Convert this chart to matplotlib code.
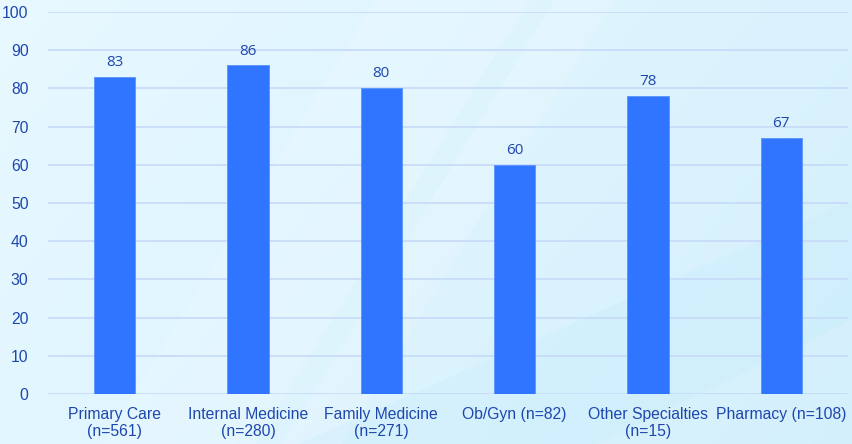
import matplotlib
matplotlib.use("Agg")
import matplotlib.pyplot as plt
import numpy as np
from matplotlib.patches import Polygon

plt.rcParams['font.family'] = ['Liberation Sans', 'DejaVu Sans']

categories = ["Primary Care\n(n=561)", "Internal Medicine\n(n=280)", "Family Medicine\n(n=271)",
              "Ob/Gyn (n=82)", "Other Specialties\n(n=15)", "Pharmacy (n=108)"]
values = [83, 86, 80, 60, 78, 67]
yticks = [0, 10, 20, 30, 40, 50, 60, 70, 80, 90, 100]

text_color = "#1E47AE"
bar_color = "#2F75FF"
grid_color = "#C6DAF8"

fig = plt.figure(figsize=(8.53, 4.44), dpi=100)

# background gradient
bg = fig.add_axes([0, 0, 1, 1], zorder=-10)
xx = np.linspace(0, 1, 300)
yy = np.linspace(0, 1, 200)
X, Y = np.meshgrid(xx, yy)
c0 = np.array([0.91, 0.975, 1.0])
c1 = np.array([0.83, 0.94, 0.99])
t = np.clip(0.7 * X + 0.3 * (1 - Y), 0, 1)[..., None]
img = c0 * (1 - t) + c1 * t
bg.imshow(img, extent=[0, 1, 0, 1], origin='lower', aspect='auto')
streaks = [
    [(0.12, 0.0), (0.30, 0.0), (0.62, 1.0), (0.44, 1.0)],
    [(0.33, 0.0), (0.40, 0.0), (0.72, 1.0), (0.65, 1.0)],
]
for s in streaks:
    bg.add_patch(Polygon(s, closed=True, facecolor="white", alpha=0.16, edgecolor="none"))
bg.add_patch(Polygon([(0.35, 0.0), (0.70, 0.0), (1.0, 0.28), (1.0, 0.55)], closed=True,
                     facecolor="#B8E8FA", alpha=0.2, edgecolor="none"))
bg.set_xlim(0, 1)
bg.set_ylim(0, 1)
bg.axis('off')

ax = fig.add_axes([48 / 853, 50 / 444, 800 / 853, 382 / 444])
ax.patch.set_alpha(0)
x = np.arange(len(categories))
bars = ax.bar(x, values, width=0.31, color=bar_color, edgecolor="#5A93FF", linewidth=0.6, zorder=3)
for xi, v in zip(x, values):
    ax.annotate(str(v), (xi, v), xytext=(0, 5), textcoords="offset points",
                ha="center", va="bottom", fontsize=11, color=text_color,
                family=['Open Sans', 'DejaVu Sans'])

ax.set_xlim(-0.5, len(categories) - 0.5)
ax.set_ylim(0, 100)
ax.set_yticks(yticks)
ax.set_yticklabels([str(v) for v in yticks])
ax.set_xticks(x)
ax.set_xticklabels(categories, linespacing=1.2)
ax.tick_params(axis='both', length=0, colors=text_color, labelsize=11.3)
ax.tick_params(axis='y', pad=14)
ax.tick_params(axis='x', pad=9)
ax.grid(axis='y', color=grid_color, linewidth=1.2, zorder=0)
for sp in ax.spines.values():
    sp.set_visible(False)

fig.savefig("out.png", dpi=100)
